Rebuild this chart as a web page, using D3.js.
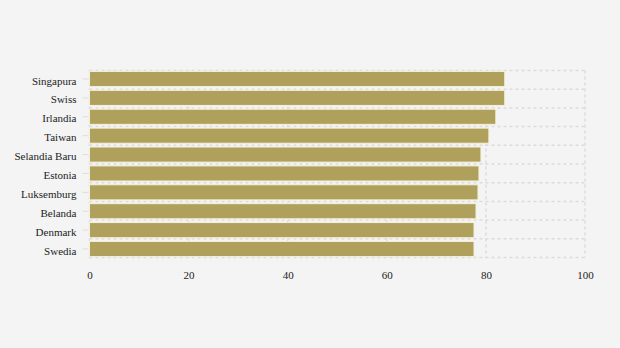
<!DOCTYPE html>
<html lang="id">
<head>
    <meta charset="UTF-8">
    <title>Bar Chart</title>
    <script src="https://d3js.org/d3.v7.min.js"></script>
    <style>
        body { margin: 0; background: #f4f4f4; }
        svg { display: block; background: #f4f4f4; }
        text { font-family: "Liberation Serif", "Times New Roman", serif; fill: #222; }
        .grid line { stroke: #dcdcdc; stroke-width: 1.5px; stroke-dasharray: 3,3; }
        .bar { fill: #afa05c; stroke: #f4f0dc; stroke-width: 1px; }
    </style>
</head>
<body>
    <svg width="620" height="348"></svg>

    <script>
        // Data
        const countries = ["Singapura", "Swiss", "Irlandia", "Taiwan", "Selandia Baru",
            "Estonia", "Luksemburg", "Belanda", "Denmark", "Swedia"];
        const values = [83.8, 83.8, 82.0, 80.6, 79.0, 78.6, 78.4, 78.0, 77.6, 77.6];
        const xTicks = [0, 20, 40, 60, 80, 100];

        const svg = d3.select("svg"),
            margin = { top: 70.5, right: 35, bottom: 90.5, left: 89.5 },
            width = +svg.attr("width") - margin.left - margin.right,
            height = +svg.attr("height") - margin.top - margin.bottom,
            g = svg.append("g").attr("transform", "translate(" + margin.left + "," + margin.top + ")");

        const x = d3.scaleLinear().domain([0, 100]).range([0, width]);
        const y = d3.scaleBand().domain(countries).range([0, height]).paddingInner(0.2).paddingOuter(0.05);
        const step = height / countries.length;

        // Grid: vertical lines at ticks
        const grid = g.append("g").attr("class", "grid");
        grid.selectAll(".vline")
            .data(xTicks)
            .enter().append("line")
            .attr("x1", d => x(d)).attr("x2", d => x(d))
            .attr("y1", 0).attr("y2", height);

        // horizontal lines between rows
        grid.selectAll(".hline")
            .data(d3.range(countries.length + 1))
            .enter().append("line")
            .attr("x1", 0).attr("x2", width)
            .attr("y1", d => d * step).attr("y2", d => d * step);

        // Bars
        g.selectAll(".bar")
            .data(countries)
            .enter().append("rect")
            .attr("class", "bar")
            .attr("x", x(0))
            .attr("y", d => y(d))
            .attr("width", (d, i) => x(values[i]) - x(0))
            .attr("height", y.bandwidth());

        // Y axis
        const yAxis = g.append("g")
            .call(d3.axisLeft(y).tickSize(6).tickPadding(7));
        yAxis.select(".domain").remove();
        yAxis.selectAll("line").attr("stroke", "#ddd").attr("transform", "translate(-1,0)");
        yAxis.selectAll("text")
            .style("font-family", "'Liberation Serif', serif")
            .style("font-size", "11px")
            .attr("fill", "#222")
            .attr("y", 2);

        // X axis
        const xAxis = g.append("g")
            .attr("transform", "translate(0," + height + ")")
            .call(d3.axisBottom(x).tickValues(xTicks).tickSize(0).tickPadding(14));
        xAxis.select(".domain").remove();
        xAxis.selectAll("text").style("font-family", "'Liberation Serif', serif").style("font-size", "11px").attr("fill", "#222");
    </script>
</body>
</html>
